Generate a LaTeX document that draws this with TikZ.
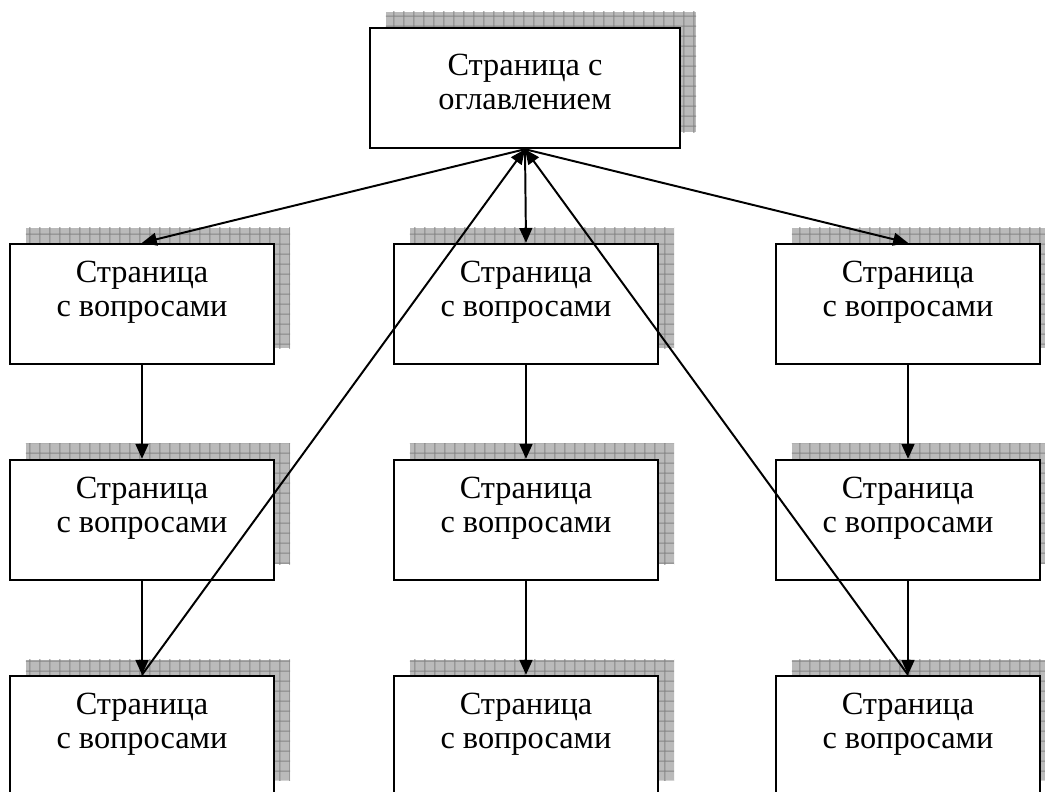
\documentclass[tikz,border=0pt]{standalone}
\usepackage{fontspec}
\setmainfont{Liberation Serif}
\usetikzlibrary{arrows.meta,patterns.meta,positioning}

\begin{document}
\begin{tikzpicture}[x=0.025cm, y=-0.025cm,
    box/.style={rectangle, draw, line width=1.7pt, fill=white, minimum width=6.6cm, minimum height=3cm, align=center, font=\fontsize{23}{24.5}\selectfont,
        preaction={fill=black!27, transform canvas={shift={(0.4cm,0.4cm)}}},
        preaction={pattern={Hatch[angle=0,distance=0.26cm,line width=0.7pt]}, pattern color=black!48, transform canvas={shift={(0.4cm,0.4cm)}}}},
    page/.style={box, execute at end node={\rule[-0.77cm]{0pt}{0pt}}},
    toc/.style={box, minimum width=7.75cm, execute at end node={\rule[-0.3cm]{0pt}{0pt}}},
    link/.style={line width=1.4pt, -{Triangle[length=0.37cm,width=0.32cm]}}
]
    \clip (0,0) rectangle (1045,791);

    \node[toc] (toc) at (525,88) {Страница с\\оглавлением};

    \node[page] (l1) at (142,304) {Страница\\с вопросами};
    \node[page] (m1) at (526,304) {Страница\\с вопросами};
    \node[page] (r1) at (908,304) {Страница\\с вопросами};

    \node[page] (l2) at (142,520) {Страница\\с вопросами};
    \node[page] (m2) at (526,520) {Страница\\с вопросами};
    \node[page] (r2) at (908,520) {Страница\\с вопросами};

    \node[page] (l3) at (142,736) {Страница\\с вопросами};
    \node[page] (m3) at (526,736) {Страница\\с вопросами};
    \node[page] (r3) at (908,736) {Страница\\с вопросами};

    \draw[link] (toc.south) -- (l1.north);
    \draw[link] (toc.south) -- (m1.north);
    \draw[link] (toc.south) -- (r1.north);

    \draw[link] (l1) -- (l2);
    \draw[link] (l2) -- (l3);
    \draw[link] (m1) -- (m2);
    \draw[link] (m2) -- (m3);
    \draw[link] (r1) -- (r2);
    \draw[link] (r2) -- (r3);

    % back to the contents page
    \draw[link] (l3.north) -- (toc.south);
    \draw[link] (r3.north) -- (toc.south);
\end{tikzpicture}
\end{document}
